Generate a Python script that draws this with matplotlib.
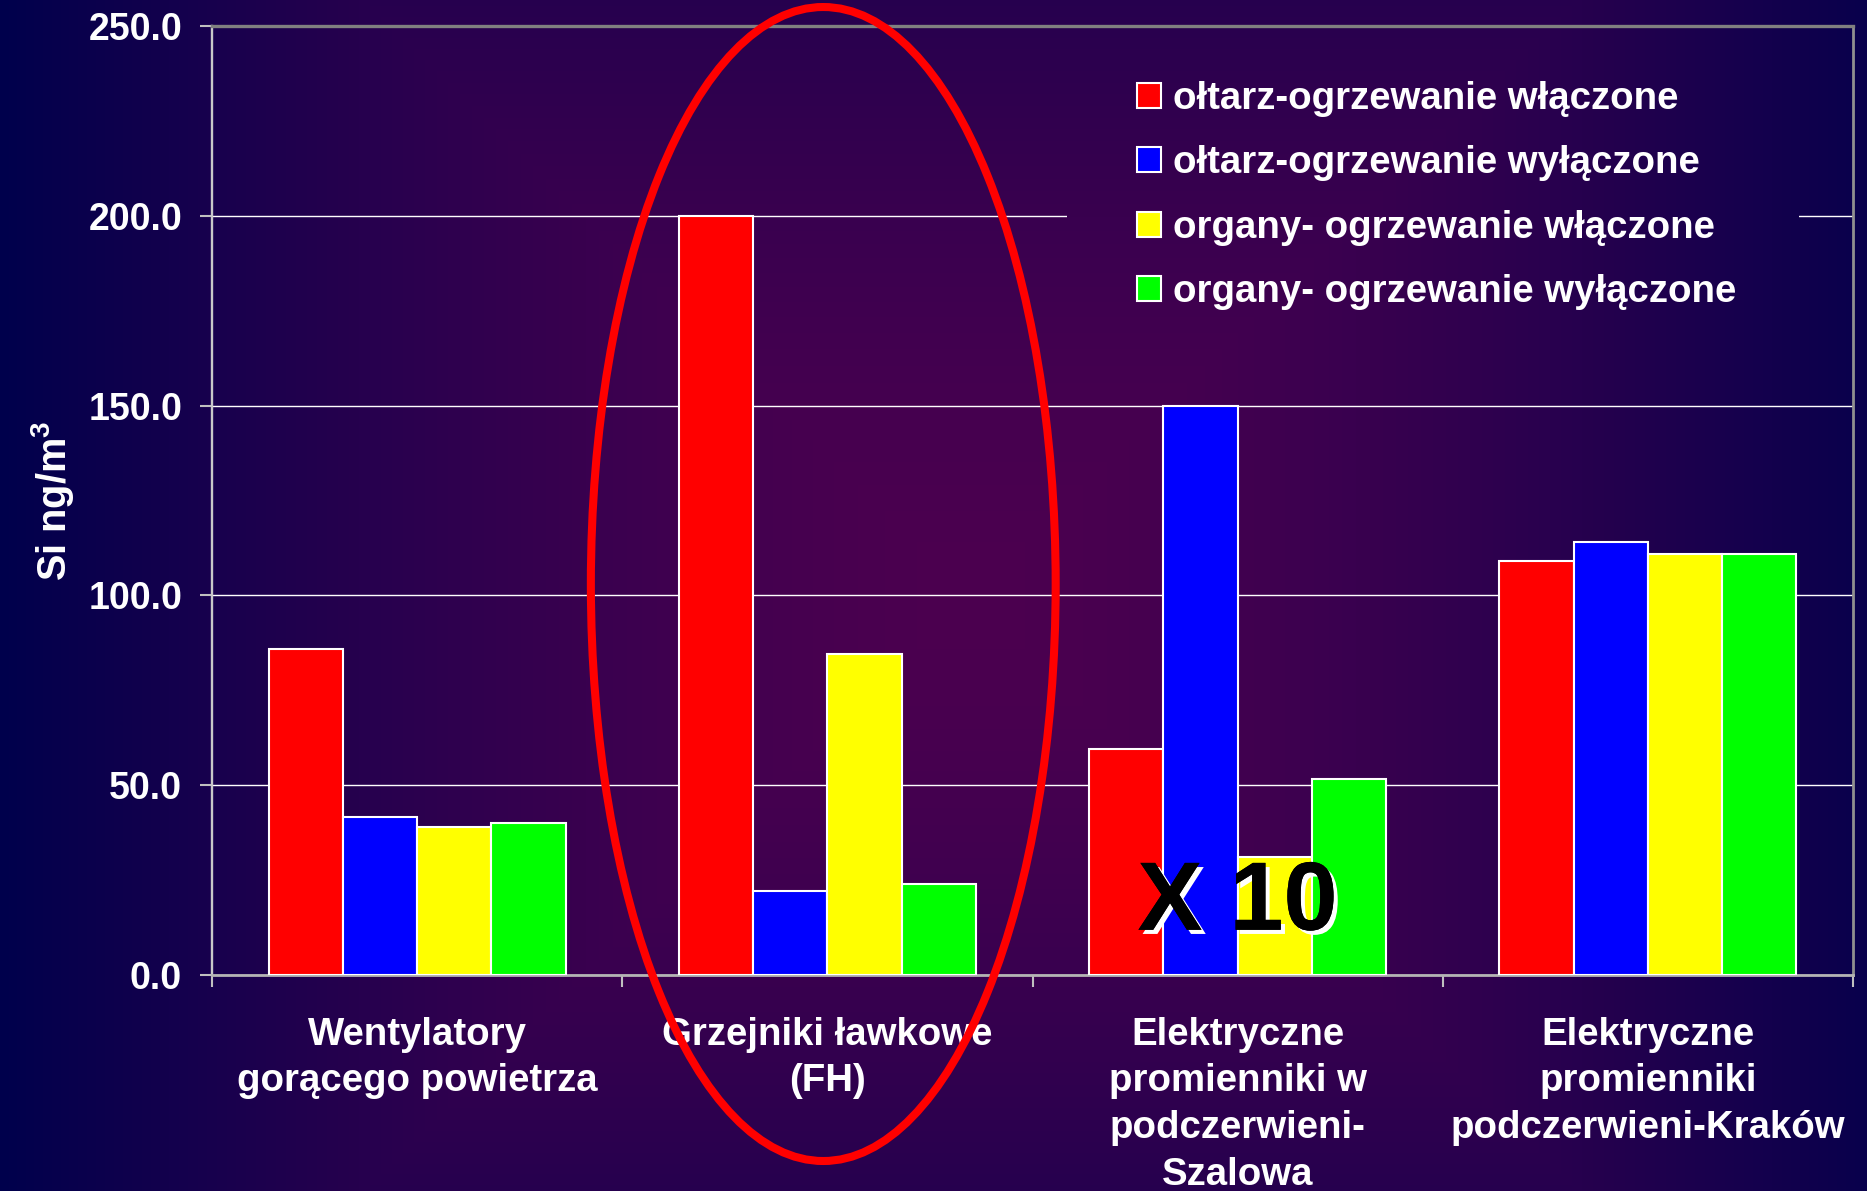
"""Si concentration by heating type, bar chart on a slide-style gradient."""
import numpy as np
import matplotlib

matplotlib.use("Agg")
import matplotlib.pyplot as plt  # noqa: E402
import matplotlib.patheffects as pe  # noqa: E402
from matplotlib.patches import Ellipse  # noqa: E402

plt.rcParams["font.family"] = ["Liberation Sans", "DejaVu Sans"]
plt.rcParams["font.weight"] = "bold"
plt.rcParams["axes.labelweight"] = "bold"
plt.rcParams["mathtext.fontset"] = "custom"
plt.rcParams["mathtext.bf"] = "Liberation Sans:bold"
plt.rcParams["mathtext.rm"] = "Liberation Sans:bold"
plt.rcParams["mathtext.default"] = "bf"

categories = [
    "Wentylatory\ngorącego powietrza",
    "Grzejniki ławkowe\n(FH)",
    "Elektryczne\npromienniki w\npodczerwieni-\nSzalowa",
    "Elektryczne\npromienniki\npodczerwieni-Kraków",
]
series_labels = [
    "ołtarz-ogrzewanie włączone",
    "ołtarz-ogrzewanie wyłączone",
    "organy- ogrzewanie włączone",
    "organy- ogrzewanie wyłączone",
]
altar_on = [86.0, 200.0, 59.5, 109.0]
altar_off = [41.5, 22.0, 150.0, 114.0]
organ_on = [39.0, 84.5, 31.0, 111.0]
organ_off = [40.0, 24.0, 51.7, 111.0]
yticks = [0, 50, 100, 150, 200, 250]

COLORS = ["#FF0000", "#0000FF", "#FFFF00", "#00FF00"]
W, H = 1867, 1191
FS = 27.6


def background(x0, x1, y0, y1):
    """Centre-out gradient (purple middle, navy edges) for a pixel box."""
    xs = np.arange(x0, x1) + 0.5
    ys = np.arange(y0, y1) + 0.5
    xx, yy = np.meshgrid(xs, ys)
    t = np.maximum(np.abs(xx - 0.52 * W) / (0.52 * W),
                   np.abs(yy - 0.5 * H) / (0.8 * H))
    s = np.clip(t, 0, 1) ** 1.5
    img = np.zeros(xx.shape + (3,))
    img[..., 0] = 0x4C / 255 * (1 - s)
    img[..., 2] = (0x50 - 4 * s) / 255
    return img


fig = plt.figure(figsize=(W / 100, H / 100), dpi=100)
bg = fig.add_axes([0, 0, 1, 1], zorder=-1)
bg.imshow(background(0, W, 0, H), aspect="auto", interpolation="bilinear")
bg.axis("off")

ax = fig.add_axes([212 / W, 1 - 975 / H, (1853 - 212) / W, (975 - 26) / H],
                  zorder=0)
ax.set_facecolor("none")

x = np.arange(len(categories))
width = 0.181
for i, (vals, color, label) in enumerate(
        zip([altar_on, altar_off, organ_on, organ_off], COLORS, series_labels)):
    ax.bar(x + (i - 1.5) * width, vals, width, color=color,
           edgecolor="white", linewidth=1.5, label=label, zorder=3)

ax.set_xlim(-0.5, len(categories) - 0.5)
ax.set_ylim(0, 250)
ax.set_yticks(yticks)
ax.set_yticklabels([f"{v:.1f}" for v in yticks])
ax.yaxis.grid(True, color="white", linewidth=1.0)
ax.set_axisbelow(True)

ax.set_xticks(np.arange(-0.5, len(categories)))
ax.set_xticklabels([])
ax.set_xticks(x, minor=True)
ax.set_xticklabels(categories, minor=True, linespacing=1.38)
ax.tick_params(axis="x", which="major", length=8.6, width=1.5,
               color="#c0c0c0", direction="out")
ax.tick_params(axis="x", which="minor", length=0, pad=30,
               labelsize=FS, labelcolor="white")
ax.tick_params(axis="y", length=8.6, width=1.5, color="#c0c0c0",
               pad=13, labelsize=FS - 0.6, labelcolor="white")

ax.spines["left"].set_color("#c8c8c8")
ax.spines["left"].set_linewidth(1.7)
ax.spines["bottom"].set_color("#b4b4b4")
ax.spines["bottom"].set_linewidth(2.0)
ax.spines["top"].set_color("#808080")
ax.spines["top"].set_linewidth(2.4)
ax.spines["right"].set_color("#909090")
ax.spines["right"].set_linewidth(2.0)

ax.set_ylabel(r"Si ng/m$^{\mathbf{3}}$", fontsize=FS + 1, color="white",
              fontweight="bold", labelpad=9)

# highlight around the bench-heater group
ax.add_patch(Ellipse((0.99, 103), 1.133, 304, fill=False, edgecolor="#FF0000",
                     linewidth=5.8, clip_on=False, zorder=6))
ax.text(2, 18.5, "X 10", fontsize=70, color="black", fontweight="bold",
        ha="center", va="center", zorder=7,
        path_effects=[pe.withSimplePatchShadow(offset=(3, -3),
                                               shadow_rgbFace="white",
                                               alpha=1.0),
                      pe.Normal()])

leg = fig.legend(loc="upper left", bbox_to_anchor=(1137 / W, 1 - 81 / H),
                 frameon=False, fontsize=FS, labelcolor="white",
                 handlelength=0.62, handleheight=0.62, handletextpad=0.32,
                 labelspacing=0.74, borderpad=0, borderaxespad=0)
leg.set_zorder(5)

# the legend sits on a plain patch of background that hides the gridlines
fig.canvas.draw()
bb = leg.get_window_extent()
cx0, cx1 = int(bb.x0 - 70), int(bb.x1 + 63)
cy0, cy1 = int(bb.y0 - 10), int(bb.y1 + 10)
cover = fig.add_axes([cx0 / W, cy0 / H, (cx1 - cx0) / W, (cy1 - cy0) / H],
                     zorder=1)
cover.imshow(background(cx0, cx1, H - cy1, H - cy0), aspect="auto")
cover.axis("off")

fig.savefig("out.png", dpi=100)
